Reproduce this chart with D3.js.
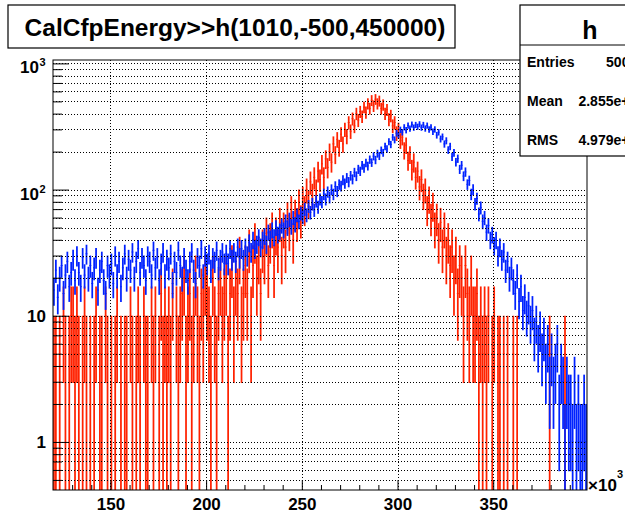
<!DOCTYPE html>
<html><head><meta charset="utf-8">
<script src="https://cdn.jsdelivr.net/npm/d3@7"></script>
<style>
html,body{margin:0;padding:0;background:#fff;overflow:hidden;}
svg{display:block;font-family:"Liberation Sans",Arial,Helvetica,sans-serif;font-weight:bold;}
</style></head><body>
<svg id="c" width="625" height="517"></svg>
<script>
// ---------------- data ----------------
const binLow = 120;      // x of first bin (x10^3)
const binWidth = 1;      // bin width (x10^3)
const blueCounts = [
 16,23,14,20,25,15,21,27,17,22,
 28,19,30,22,17,29,21,31,20,25,
 18,24,29,16,23,27,19,15,25,21,
 26,18,30,21,27,17,24,31,20,28,
 23,32,20,27,34,22,29,25,19,30,
 27,21,33,24,29,19,26,32,21,28,
 24,31,18,27,22,33,25,20,29,23,
 19,27,32,23,18,29,25,34,21,30,
 26,31,23,29,27,33,24,28,32,26,
 31,26,34,28,32,27,35,29,34,28,
 35,30,38,32,40,34,37,42,35,40,
 43,37,46,41,48,42,50,44,47,52,
 48,56,50,58,51,60,53,63,56,65,
 61,70,63,74,66,77,69,81,73,84,
 80,92,84,96,87,100,92,106,97,110,
 107,119,112,124,115,129,121,137,128,145,
 140,156,148,163,154,173,164,184,172,193,
 185,205,196,220,210,240,228,260,248,280,
 270,298,285,312,296,322,305,328,310,326,
 315,330,310,326,305,322,300,312,288,300,
 270,285,252,262,230,244,206,220,182,196,
 165,176,145,156,128,138,110,118,92,100,
 77,85,64,72,56,60,46,52,40,44,
 36,40,30,35,28,32,23,27,20,24,
 19,15,21,13,17,11,14,10,12,9,
 11,7,9,6,8,5,7,4,6,3,
 5,3,4,6,2,4,3,1,3,2,
 2,1,3,1,2,1,1,2,1,1
];
const redCounts = [
 5,5,0,5,0,10,5,0,5,10,
 10,5,10,5,0,5,10,5,0,5,
 0,5,10,0,5,5,0,10,5,0,
 5,0,5,10,0,5,0,5,5,0,
 10,5,0,5,10,5,0,10,5,5,
 0,10,5,10,0,5,15,5,10,5,
 10,5,15,0,10,5,10,15,20,5,
 10,15,5,10,20,10,5,15,10,20,
 15,10,5,20,10,5,15,20,10,15,
 20,5,15,25,10,20,15,30,10,15,
 25,15,35,10,25,40,20,30,15,35,
 30,45,25,40,50,25,45,35,55,30,
 50,35,62,48,70,40,65,55,80,58,
 85,70,100,78,115,90,125,98,140,120,
 160,125,175,150,200,165,230,190,250,215,
 275,230,300,265,340,290,365,320,400,355,
 415,380,450,410,480,440,510,460,520,480,
 505,440,470,400,430,360,385,320,340,280,
 300,245,260,205,225,170,190,145,165,125,
 140,105,120,90,100,70,85,60,75,50,
 60,40,55,35,50,30,40,25,35,20,
 30,15,25,20,10,25,15,10,20,10,
 10,15,5,10,5,10,5,10,0,5,
 10,0,5,5,0,5,0,5,0,0,
 5,0,5,0,0,0,0,0,0,0,
 0,0,0,0,0,0,0,0,0,5,
 0,0,0,0,0,0,0,5,0,0,
 0,0,0,0,0,0,0,0,0,0
];
const redWeight = 5;
const xDomain = [120, 399];
const yDomain = [0.416, 1064];
const xMajorTicks = [150, 200, 250, 300, 350];
const xMinorTicks = [130,140,160,170,180,190,210,220,230,240,260,270,280,290,310,320,330,340,360,370,380,390];
const yMajorTicks = [1, 10, 100, 1000];
const yMajorBase = ["1", "10", "10", "10"];
const yMajorExp = ["", "", "2", "3"];
const titleText = "CalCfpEnergy>>h(1010,-500,450000)";
const statsTitle = "h";
const statsNames = ["Entries", "Mean", "RMS"];
const statsValues = ["50000", "2.855e+05", "4.979e+04"];

// ---------------- layout ----------------
const svg = d3.select("#c");
const M = {l: 53, r: 587, t: 60, b: 490};
const x = d3.scaleLinear().domain(xDomain).range([M.l, M.r]);
const y = d3.scaleLog().domain(yDomain).range([M.b, M.t]);

svg.append("rect").attr("width", 625).attr("height", 517).attr("fill", "#fff");

const defs = svg.append("defs");
defs.append("clipPath").attr("id", "pc").append("rect")
  .attr("x", M.l).attr("y", M.t).attr("width", M.r - M.l).attr("height", M.b - M.t);

const plot = svg.append("g").attr("clip-path", "url(#pc)");

function bins(counts, errFn) {
  return counts.map((v, i) => ({x0: binLow + i * binWidth, x1: binLow + (i + 1) * binWidth, v, e: errFn(v)}))
    .filter(d => d.v > 0);
}
function drawHist(data, color) {
  const g = plot.append("g");
  const lo = d => (d.v - d.e) > yDomain[0] ? y(d.v - d.e) : M.b + 2;
  g.selectAll("line.v").data(data).join("line")
    .attr("x1", d => x((d.x0 + d.x1) / 2)).attr("x2", d => x((d.x0 + d.x1) / 2))
    .attr("y1", lo).attr("y2", d => y(d.v + d.e))
    .attr("stroke", color).attr("stroke-width", 1.75);
  g.selectAll("line.h").data(data).join("line")
    .attr("x1", d => x(d.x0)).attr("x2", d => x(d.x1))
    .attr("y1", d => y(d.v)).attr("y2", d => y(d.v))
    .attr("stroke", color).attr("stroke-width", 1);
}
drawHist(bins(redCounts, v => Math.sqrt(redWeight * v)), "#ff2200");
drawHist(bins(blueCounts, v => Math.sqrt(v)), "#0022ff");

// grid (drawn over data, as ROOT does)
const grid = plot.append("g").attr("stroke", "#000").attr("stroke-width", 1).attr("stroke-dasharray", "1,2");
grid.selectAll("line.gy").data(y.ticks()).join("line")
  .attr("x1", M.l).attr("x2", M.r).attr("y1", d => Math.round(y(d)) + 0.5).attr("y2", d => Math.round(y(d)) + 0.5);
grid.selectAll("line.gx").data(xMajorTicks).join("line")
  .attr("y1", M.t).attr("y2", M.b).attr("x1", d => Math.round(x(d)) + 0.5).attr("x2", d => Math.round(x(d)) + 0.5);

// axes ticks
const yMinor = y.ticks().filter(t => !yMajorTicks.includes(t));
svg.append("g").attr("transform", `translate(${M.l},0)`)
  .call(d3.axisLeft(y).tickValues(yMinor).tickSize(-9).tickFormat(""))
  .call(g => g.select(".domain").remove());
svg.append("g").attr("transform", `translate(${M.l},0)`)
  .call(d3.axisLeft(y).tickValues(yMajorTicks).tickSize(-16).tickFormat(""))
  .call(g => g.select(".domain").remove());
svg.append("g").attr("transform", `translate(0,${M.b})`)
  .call(d3.axisBottom(x).tickValues(xMinorTicks).tickSize(-5).tickFormat(""))
  .call(g => g.select(".domain").remove());
svg.append("g").attr("transform", `translate(0,${M.b})`)
  .call(d3.axisBottom(x).tickValues(xMajorTicks).tickSize(-10).tickPadding(8))
  .call(g => g.select(".domain").remove())
  .call(g => g.selectAll("text").attr("font-size", 17).attr("font-family", "'Liberation Sans',Arial,sans-serif").attr("font-weight", "bold").attr("fill", "#000"));

svg.selectAll(".tick line").attr("stroke", "#000");

// frame
svg.append("rect").attr("x", M.l).attr("y", M.t).attr("width", M.r - M.l).attr("height", M.b - M.t)
  .attr("fill", "none").attr("stroke", "#000").attr("stroke-width", 1);

// y labels
const yl = svg.append("g").attr("font-size", 17);
yMajorTicks.forEach((t, i) => {
  const py = y(t);
  if (yMajorExp[i] === "") {
    yl.append("text").attr("x", 46).attr("y", py + 6).attr("text-anchor", "end").text(yMajorBase[i]);
  } else {
    yl.append("text").attr("x", 39).attr("y", py + 10).attr("text-anchor", "end").text(yMajorBase[i]);
    yl.append("text").attr("x", 39.5).attr("y", py + 3).attr("font-size", 11).text(yMajorExp[i]);
  }
});
// x multiplier
svg.append("text").attr("x", 588).attr("y", 491).attr("font-size", 17).text("\u00d710");
svg.append("text").attr("x", 617).attr("y", 478).attr("font-size", 11).text("3");

// title box
svg.append("rect").attr("x", 8).attr("y", 5).attr("width", 447).attr("height", 43)
  .attr("fill", "#fff").attr("stroke", "#000").attr("stroke-width", 1.2);
svg.append("text").attr("x", 235).attr("y", 36).attr("text-anchor", "middle")
  .attr("font-size", 24.5).text(titleText);

// stats box (extends past the right edge, as in the reference)
const sb = svg.append("g");
sb.append("rect").attr("x", 520).attr("y", 5).attr("width", 140).attr("height", 151)
  .attr("fill", "#fff").attr("stroke", "#000").attr("stroke-width", 1.2);
sb.append("line").attr("x1", 520).attr("x2", 660).attr("y1", 45).attr("y2", 45).attr("stroke", "#000");
sb.append("text").attr("x", 590).attr("y", 39).attr("text-anchor", "middle").attr("font-size", 25).text(statsTitle);
statsNames.forEach((n, i) => {
  const by = 67 + i * 39;
  sb.append("text").attr("x", 527).attr("y", by).attr("font-size", 14).text(n);
  sb.append("text").attr("x", 645).attr("y", by).attr("text-anchor", "end").attr("font-size", 14).text(statsValues[i]);
});
</script>
</body></html>
